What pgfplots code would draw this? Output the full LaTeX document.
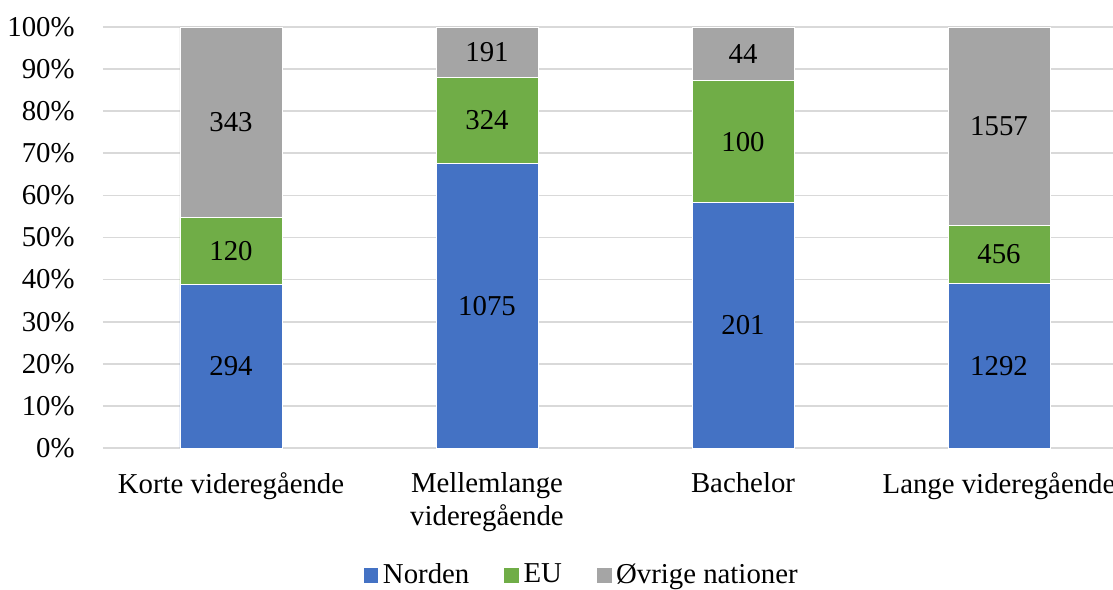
\documentclass[border=0pt]{standalone}
\usepackage{pgfplots}
\pgfplotsset{compat=1.18}
\usepackage{pgfplotstable}
\usepackage{fontspec}
\setmainfont{Liberation Serif}

\definecolor{norden}{HTML}{4472C4}
\definecolor{eu}{HTML}{70AD47}
\definecolor{ovrige}{HTML}{A5A5A5}
\definecolor{gridgray}{HTML}{D9D9D9}

% share in percent (pct) and head count (n) per category
\pgfplotstableread{
x pct n
0 38.84 294
1 67.61 1075
2 58.26 201
3 39.09 1292
}\norden
\pgfplotstableread{
x pct n
0 15.85 120
1 20.38 324
2 28.99 100
3 13.80 456
}\eu
\pgfplotstableread{
x pct n
0 45.31 343
1 12.01 191
2 12.75 44
3 47.11 1557
}\ovrige

\begin{document}
\begin{tikzpicture}[font=\fontsize{14.4}{16.5}\selectfont]
\begin{axis}[
  width=512pt, height=210.5pt, scale only axis,
  ybar stacked, bar width=51pt,
  xmin=-0.5, xmax=3.5,
  ymin=0, ymax=100, enlarge y limits=false,
  xtick=data,
  xticklabels={Korte videregående, {Mellemlange\\videregående}, Bachelor, Lange videregående},
  xticklabel style={align=center, anchor=north, inner sep=0pt, yshift=-12pt},
  ytick={0,10,...,100},
  yticklabel={\pgfmathprintnumber[assume math mode=true]{\tick}\%},
  yticklabel style={anchor=east, inner sep=0pt, xshift=-14pt},
  ymajorgrids, major grid style={color=gridgray, line width=0.8pt},
  axis line style={draw=none},
  tick style={draw=none},
  point meta=explicit,
  nodes near coords={\pgfmathprintnumber[assume math mode=true,1000 sep={}]{\pgfplotspointmeta}},
  every node near coord/.append style={anchor=center, black},
  legend columns=-1,
  legend style={at={(0.468,-0.3017)}, anchor=center, draw=none,
    /tikz/every even column/.append style={column sep=15pt}},
  legend image code/.code={\fill[#1] (0pt,-3.9pt) rectangle (7.8pt,3.9pt);},
]
\addplot[fill=norden, draw=white, line width=0.3pt] table[x=x, y=pct, meta=n] {\norden};
\addplot[fill=eu, draw=white, line width=0.3pt] table[x=x, y=pct, meta=n] {\eu};
\addplot[fill=ovrige, draw=white, line width=0.3pt] table[x=x, y=pct, meta=n] {\ovrige};
\legend{Norden, EU, Øvrige nationer}
\end{axis}
\pgfresetboundingbox
\path[use as bounding box] (-51.5pt,-70.5pt) rectangle (505pt,224pt);
\end{tikzpicture}
\end{document}
